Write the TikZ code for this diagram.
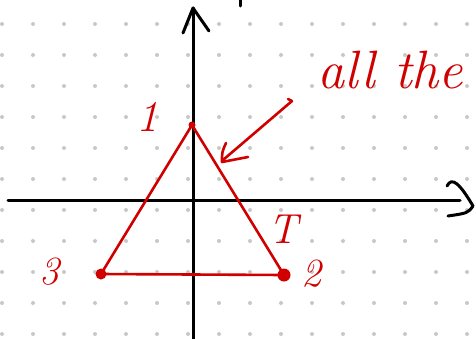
\documentclass[tikz,border=0pt]{standalone}
\usepackage{tikz}
\usetikzlibrary{positioning}
\definecolor{ink}{RGB}{208,0,0}
\definecolor{griddot}{RGB}{200,200,200}
\tikzset{
  axis/.style={line width=3pt,line cap=round,line join=round},
  redline/.style={ink,line width=2.6pt,line cap=round,line join=round},
  vtx/.style={circle,fill=ink,inner sep=0pt},
  lbl/.style={ink,inner sep=0pt,font=\itshape\fontsize{40}{40}\selectfont}
}

\begin{document}
\begin{tikzpicture}[x=1pt,y=-1pt]
\useasboundingbox (0,0) rectangle (476,338);
% dot grid
\foreach \i in {0,...,15}
  \foreach \j in {0,...,10}
    \fill[griddot] (2+31*\i,24+31*\j) circle (2);
% axes
\coordinate (xl) at (8,200);
\coordinate (xr) at (460,200);
\coordinate (yb) at (193,340);
\coordinate (yt) at (193,8);
\draw[axis] (xl)--(xr);
\draw[axis] (yb)--(yt);
\draw[axis] (183,33)--(yt)--(209,31);
\draw[axis] (447,186) .. controls (452,176) and (460,184) .. (473,206)
  .. controls (468,213) .. (448,216);
\draw[axis] (240,-2)--(240,6);
% triangle
\node[vtx,minimum size=7pt] (v1) at (192,125) {};
\node[vtx,minimum size=11pt] (v3) at (101,274) {};
\node[vtx,minimum size=13pt] (v2) at (284,275) {};
\draw[redline] (v1.center)--(v2.center)--(v3.center)--cycle;
\node[lbl,font=\itshape\fontsize{44}{44}\selectfont] (l1) at (147,117) {1};
\node[lbl] (l3) at (49,272) {3};
\node[lbl] (l2) at (311,274) {2};
\node[lbl,font=\itshape\fontsize{42}{42}\selectfont] (lT) at (283,229) {T};
% note
\node[lbl,font=\itshape\fontsize{54}{54}\selectfont] (note) at (390,70) {all the};
\coordinate (tail) at (292,101);
\coordinate (head) at (223,160);
\draw[redline] (tail)--(head);
\draw[redline] (288,99)--(tail);
\draw[redline] (226,143) .. controls (222,152) .. (222,162) -- (248,157);
\end{tikzpicture}
\end{document}
